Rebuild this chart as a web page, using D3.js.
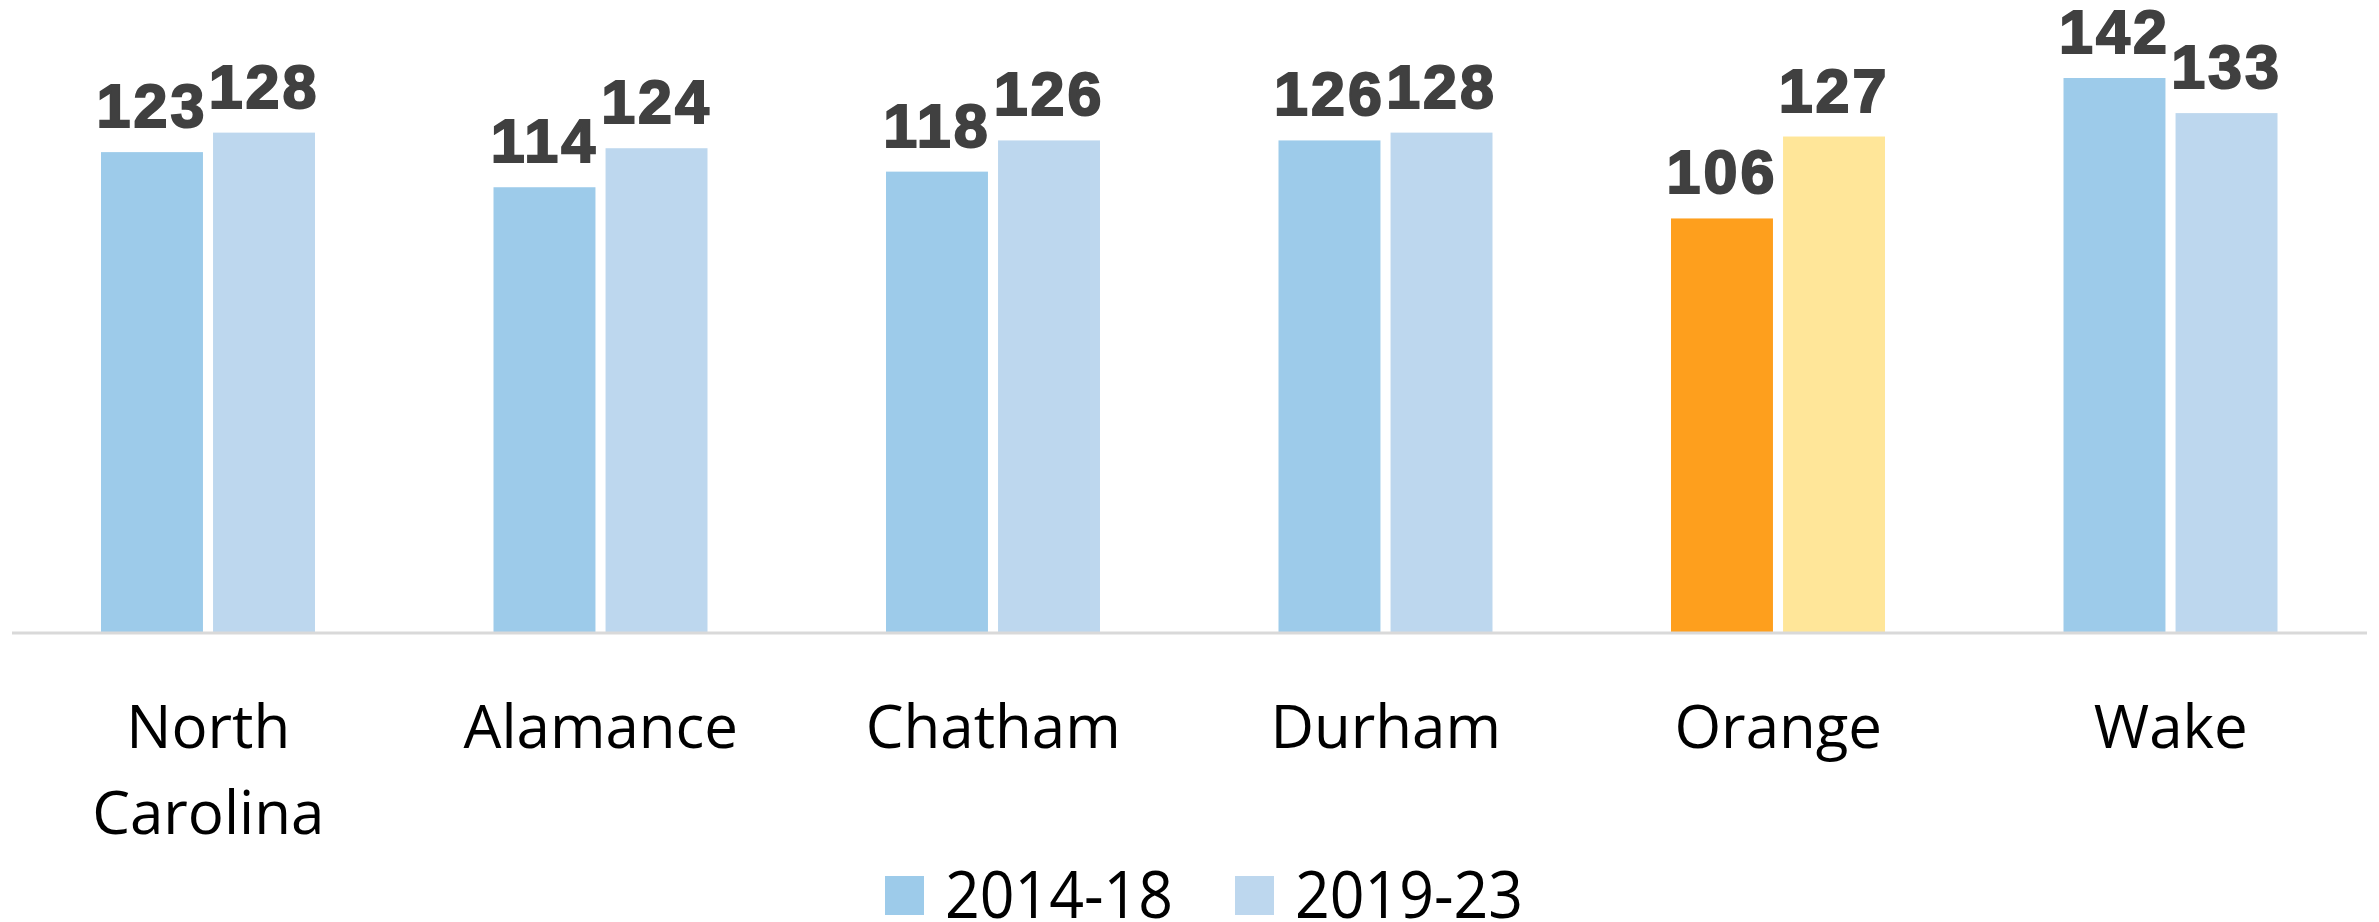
<!DOCTYPE html>
<html>
<head>
<meta charset="utf-8">
<script src="https://cdn.jsdelivr.net/npm/d3@7"></script>
<style>
  body { margin: 0; background: #fff; }
</style>
</head>
<body>
<script>
var categories = [['North', 'Carolina'], ['Alamance'], ['Chatham'], ['Durham'], ['Orange'], ['Wake']];
var seriesNames = ['2014-18', '2019-23'];
var values2014 = [123, 114, 118, 126, 106, 142];
var values2019 = [128, 124, 126, 128, 127, 133];
var highlight = 'Orange';

var width = 2379, height = 922;
var baseline = 632;

var colors = ['#9dcbea', '#bdd7ee'];
var hiColors = ['#fe9f1d', '#ffe699'];

var svg = d3.select('body').append('svg')
    .attr('width', width)
    .attr('height', height);

var names = categories.map(function(c) { return c.join(' '); });

var x = d3.scaleBand()
    .domain(names)
    .range([12, 2367])
    .paddingInner(0)
    .paddingOuter(0);

var x1 = d3.scaleBand()
    .domain(seriesNames)
    .range([89, 303])
    .paddingInner(0.09);

var y = d3.scaleLinear()
    .domain([0, 142])
    .range([baseline, 78]);

var data = [];
names.forEach(function(n, i) {
  data.push({ cat: n, s: 0, v: values2014[i] });
  data.push({ cat: n, s: 1, v: values2019[i] });
});

svg.selectAll('.bar')
    .data(data)
  .enter().append('rect')
    .attr('class', 'bar')
    .attr('x', function(d) { return x(d.cat) + x1(seriesNames[d.s]); })
    .attr('width', x1.bandwidth())
    .attr('y', function(d) { return y(d.v); })
    .attr('height', function(d) { return baseline - y(d.v); })
    .style('fill', function(d) { return d.cat === highlight ? hiColors[d.s] : colors[d.s]; });

svg.selectAll('.label')
    .data(data)
  .enter().append('text')
    .attr('class', 'label')
    .attr('x', function(d) { return x(d.cat) + x1(seriesNames[d.s]) + x1.bandwidth() / 2; })
    .attr('y', function(d) { return y(d.v) - 25; })
    .attr('text-anchor', 'middle')
    .style('font-family', '"Liberation Sans", Arial, sans-serif')
    .style('font-weight', 'bold')
    .style('font-size', '61px')
    .style('letter-spacing', '3px')
    .style('fill', '#404040')
    .style('stroke', '#404040')
    .style('stroke-width', '2px')
    .text(function(d) { return d.v; });

// axis line
svg.append('line')
    .attr('x1', 12).attr('x2', 2367)
    .attr('y1', baseline + 1).attr('y2', baseline + 1)
    .style('stroke', '#d9d9d9')
    .style('stroke-width', 3);

// category labels
var cat = svg.selectAll('.cat')
    .data(categories)
  .enter().append('text')
    .attr('class', 'cat')
    .attr('text-anchor', 'middle')
    .attr('x', function(d) { return x(d.join(' ')) + x.bandwidth() / 2; })
    .attr('y', 748)
    .style('font-family', '"Open Sans", "Noto Sans", sans-serif')
    .style('font-size', '60px')
    .style('fill', '#000');
cat.selectAll('tspan')
    .data(function(d) { return d; })
  .enter().append('tspan')
    .attr('x', function() { return d3.select(this.parentNode).attr('x'); })
    .attr('dy', function(d, i) { return i === 0 ? 0 : 86; })
    .text(function(d) { return d; });

// legend
var legendX = [885, 1235];
var legend = svg.selectAll('.legend')
    .data(seriesNames)
  .enter().append('g')
    .attr('class', 'legend')
    .attr('transform', function(d, i) { return 'translate(' + legendX[i] + ',876)'; });
legend.append('rect')
    .attr('width', 39)
    .attr('height', 39)
    .style('fill', function(d, i) { return colors[i]; });
legend.append('text')
    .attr('x', 60)
    .attr('y', 42)
    .attr('textLength', 228)
    .attr('lengthAdjust', 'spacingAndGlyphs')
    .style('font-family', '"Open Sans", "Noto Sans", sans-serif')
    .style('font-size', '66px')
    .style('fill', '#000')
    .text(function(d) { return d; });
</script>
</body>
</html>
